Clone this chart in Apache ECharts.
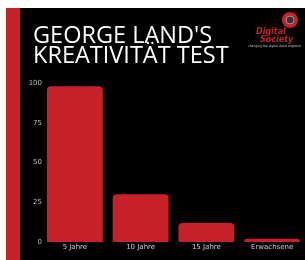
<!DOCTYPE html>
<html>
<head>
<meta charset="utf-8">
<script src="https://cdn.jsdelivr.net/npm/echarts@6/dist/echarts.min.js"></script>
<style>
  html, body { margin: 0; padding: 0; background: #fff; }
  #main { width: 305px; height: 260px; }
</style>
</head>
<body>
<div id="main"></div>
<script>
let categories = ["5 Jahre", "10 Jahre", "15 Jahre", "Erwachsene"];
let values = [98, 30, 12, 2];
let yTicks = [0, 25, 50, 75, 100];

let red = "#c62128";

let option = {
  backgroundColor: "#fff",
  animation: false,
  graphic: [
    { type: "rect", z: -10, shape: { x: 20, y: 8, width: 290, height: 260 }, style: { fill: "#000" } },
    { type: "rect", z: -10, shape: { x: 6, y: 8, width: 14, height: 260 }, style: { fill: red } },
    {
      type: "text", left: 33, top: 24,
      style: {
        text: "GEORGE LAND'S\nKREATIVITÄT TEST",
        fill: "#fff",
        font: "23.5px 'Open Sans'",
        lineHeight: 20
      }
    },
    // logo
    { type: "circle", shape: { cx: 290, cy: 20, r: 8 }, style: { fill: red } },
    { type: "circle", shape: { cx: 290, cy: 20, r: 4 }, style: { fill: "#333", stroke: "#999", lineWidth: 1 } },
    {
      type: "text", left: 256, top: 28,
      style: { text: "Digital", fill: red, font: "italic bold 8px 'DejaVu Sans'" }
    },
    {
      type: "text", left: 260, top: 36,
      style: { text: "Society", fill: red, font: "italic bold 8px 'DejaVu Sans'" }
    },
    {
      type: "text", left: 248, top: 45,
      style: { text: "changing the digital world together", fill: "#ccc", font: "3px 'DejaVu Sans'" }
    }
  ],
  grid: { left: 42, right: -5, top: 83, bottom: 18 },
  xAxis: {
    type: "category",
    data: categories,
    axisLine: { show: false },
    axisTick: { show: false },
    axisLabel: {
      color: "#ccc",
      fontSize: 7,
      fontFamily: "DejaVu Sans",
      margin: 2
    }
  },
  yAxis: {
    type: "value",
    min: 0,
    max: 100,
    interval: 25,
    axisLine: { show: false },
    axisTick: { show: false },
    splitLine: { show: false },
    axisLabel: {
      color: "#bbb",
      fontSize: 7,
      fontFamily: "DejaVu Sans",
      margin: 0,
      formatter: function (v) {
        return yTicks.indexOf(v) >= 0 ? String(v) : "";
      }
    }
  },
  series: [
    {
      type: "bar",
      data: values,
      barCategoryGap: "15%",
      itemStyle: { color: red, borderRadius: [4, 4, 0, 0] }
    }
  ]
};

var myChart = echarts.init(document.getElementById("main"));
myChart.setOption(option);
</script>
</body>
</html>
